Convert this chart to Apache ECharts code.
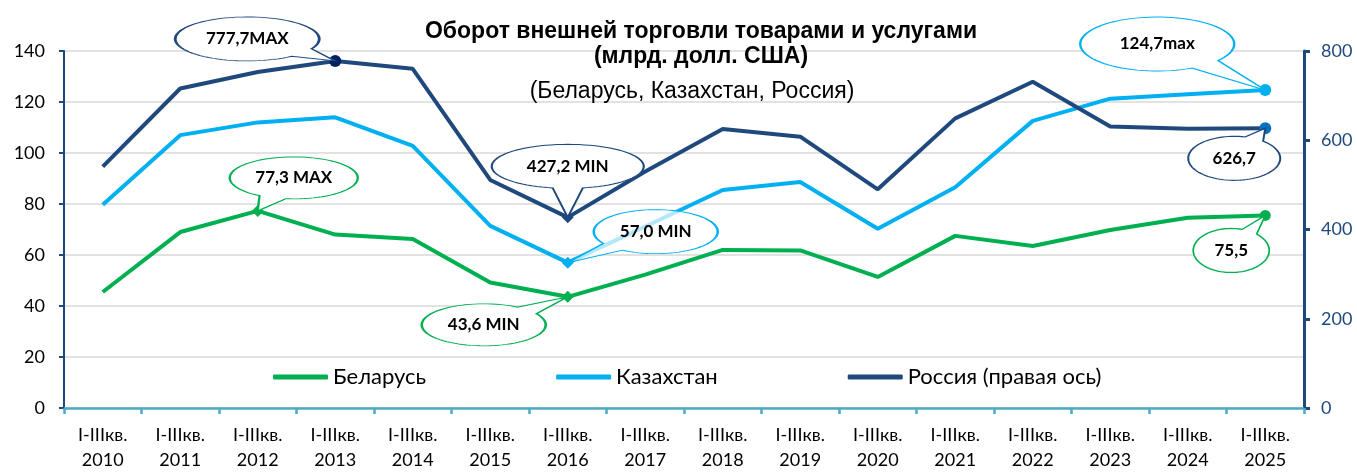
<!DOCTYPE html>
<html>
<head>
<meta charset="utf-8">
<script src="https://cdn.jsdelivr.net/npm/echarts@6/dist/echarts.min.js"></script>
<style>
  html, body { margin: 0; padding: 0; background: #fff; }
  #chart { width: 1357px; height: 473px; }
</style>
</head>
<body>
<div id="chart"></div>
<script>
const years = ['2010', '2011', '2012', '2013', '2014', '2015', '2016', '2017', '2018', '2019', '2020', '2021', '2022', '2023', '2024', '2025']
const categories = years.map(y => 'I-IIIкв.\n' + y)

const belarus = [45.5, 69.0, 77.3, 68.0, 66.3, 49.2, 43.6, 52.3, 62.0, 61.8, 51.4, 67.5, 63.5, 69.8, 74.6, 75.5]
const kazakhstan = [79.7, 107.0, 112.0, 114.0, 102.8, 71.4, 57.0, 71.2, 85.5, 88.6, 70.3, 86.6, 112.6, 121.3, 123.0, 124.7]
const russia = [541, 716, 753, 777.7, 760, 511, 427.2, 530, 625, 608, 490, 649, 731, 631, 626, 626.7]

const leftTicks = { min: 0, max: 140, interval: 20 }
const rightTicks = { min: 0, max: 800, interval: 200 }

const FONT = 'Lato'
const GREEN = '#00b050'
const CYAN = '#00b0f0'
const NAVY = '#1f497d'

// speech bubble: tip at the point, ellipse centre shifted by (dx, dy)
const bubble = (idx, value, text, dx, dy, rx, ry, color, spread = 0.22, fill = '#fff') => {
  const ang = Math.atan2(-dy / ry, -dx / rx)
  const pts = [[0, 0]]
  const n = 80
  for (let i = 0; i <= n; i++) {
    const t = ang + spread + (2 * Math.PI - 2 * spread) * i / n
    pts.push([dx + rx * Math.cos(t), dy + ry * Math.sin(t)])
  }
  const xs = pts.map(p => p[0])
  const ys = pts.map(p => p[1])
  const minX = Math.min(...xs), maxX = Math.max(...xs)
  const minY = Math.min(...ys), maxY = Math.max(...ys)
  const cx = (minX + maxX) / 2
  const cy = (minY + maxY) / 2
  const d = 'path://M' + pts.map(p => p[0].toFixed(2) + ' ' + p[1].toFixed(2)).join(' L') + ' Z'
  return {
    coord: [idx, value],
    symbol: d,
    symbolSize: [maxX - minX, maxY - minY],
    symbolOffset: [cx, cy],
    itemStyle: { color: fill, borderColor: color, borderWidth: 1.5 },
    label: {
      show: true,
      formatter: text,
      position: 'inside',
      offset: [dx - cx, dy - cy],
      color: '#000',
      fontFamily: FONT,
      fontWeight: 'bold',
      fontSize: 17
    }
  }
}

const marker = (value, symbol, size, color) => ({
  value,
  symbol,
  symbolSize: size,
  itemStyle: { color }
})

const withMarkers = (arr, marks) => arr.map((v, i) => marks[i] ? marker(v, ...marks[i]) : v)

const chart = echarts.init(document.getElementById('chart'))

const option = {
  animation: false,
  title: [
    {
      text: 'Оборот внешней торговли товарами и услугами\n(млрд. долл. США)',
      left: 696,
      textAlign: 'center',
      top: 14,
      textStyle: { fontFamily: 'Liberation Sans', fontWeight: 'bold', fontSize: 23, lineHeight: 25, color: '#000' }
    },
    {
      text: '(Беларусь, Казахстан, Россия)',
      left: 687,
      textAlign: 'center',
      top: 75,
      textStyle: { fontFamily: 'Liberation Sans', fontWeight: 'normal', fontSize: 23, color: '#000' }
    }
  ],
  legend: {
    left: 273,
    top: 366,
    padding: 0,
    itemWidth: 55,
    itemHeight: 5,
    itemGap: 130,
    icon: 'roundRect',
    textStyle: { fontFamily: FONT, fontSize: 22, color: '#000', padding: [0, 0, 0, 0] },
    data: ['Беларусь', 'Казахстан', 'Россия (правая ось)']
  },
  grid: { left: 64, right: 53, top: 51, bottom: 64 },
  xAxis: {
    type: 'category',
    data: categories,
    boundaryGap: true,
    axisLine: { lineStyle: { color: '#4bacc6', width: 2.5 } },
    axisTick: { show: true, length: 6, lineStyle: { color: '#4bacc6', width: 2.5 } },
    axisLabel: { color: '#000', fontFamily: FONT, fontSize: 18, lineHeight: 25, margin: 15 }
  },
  yAxis: [
    {
      type: 'value',
      ...leftTicks,
      axisLine: { show: true, lineStyle: { color: NAVY, width: 2 } },
      axisTick: { show: true, length: 5, lineStyle: { color: NAVY, width: 2 } },
      axisLabel: { color: '#000', fontFamily: FONT, fontSize: 18, margin: 19 },
      splitLine: { lineStyle: { color: '#d9d9d9', width: 1.5 } }
    },
    {
      type: 'value',
      ...rightTicks,
      position: 'right',
      axisLine: { show: true, lineStyle: { color: NAVY, width: 3 } },
      axisTick: { show: true, length: 6, lineStyle: { color: NAVY, width: 3 } },
      axisLabel: { color: NAVY, fontFamily: FONT, fontSize: 18, margin: 17 },
      splitLine: { show: false }
    }
  ],
  series: [
    {
      name: 'Беларусь',
      type: 'line',
      symbol: 'circle',
      symbolSize: 0,
      showAllSymbol: true,
      lineStyle: { width: 4, color: GREEN },
      itemStyle: { color: GREEN },
      data: withMarkers(belarus, { 2: ['diamond', 12, GREEN], 6: ['diamond', 12, GREEN], 15: ['circle', 11, GREEN] }),
      markPoint: {
        data: [
          bubble(2, belarus[2], '77,3 MAX', 36, -33, 64, 21, GREEN),
          bubble(6, belarus[6], '43,6 MIN', -84, 28, 62, 21, GREEN),
          bubble(15, belarus[15], '75,5', -34, 35, 38, 22, GREEN)
        ]
      }
    },
    {
      name: 'Казахстан',
      type: 'line',
      symbol: 'circle',
      symbolSize: 0,
      showAllSymbol: true,
      lineStyle: { width: 4, color: CYAN },
      itemStyle: { color: CYAN },
      data: withMarkers(kazakhstan, { 6: ['diamond', 12, CYAN], 15: ['circle', 12, CYAN] }),
      markPoint: {
        data: [
          bubble(6, kazakhstan[6], '57,0 MIN', 88, -31, 62, 22, CYAN, 0.22, 'rgba(255,255,255,0.7)'),
          bubble(15, kazakhstan[15], '124,7max', -108, -46, 77, 27, CYAN)
        ]
      }
    },
    {
      name: 'Россия (правая ось)',
      type: 'line',
      yAxisIndex: 1,
      symbol: 'circle',
      symbolSize: 0,
      showAllSymbol: true,
      lineStyle: { width: 4, color: NAVY },
      itemStyle: { color: NAVY },
      data: withMarkers(russia, { 3: ['circle', 12, '#002060'], 6: ['diamond', 12, NAVY], 15: ['circle', 12, '#0070c0'] }),
      markPoint: {
        data: [
          bubble(3, russia[3], '777,7MAX', -88, -22, 72, 22, NAVY),
          bubble(6, russia[6], '427,2 MIN', 0, -51, 76, 22, NAVY, 0.2),
          bubble(15, russia[15], '626,7', -31, 30, 46, 22, NAVY)
        ]
      }
    }
  ]
}

chart.setOption(option)
</script>
</body>
</html>
